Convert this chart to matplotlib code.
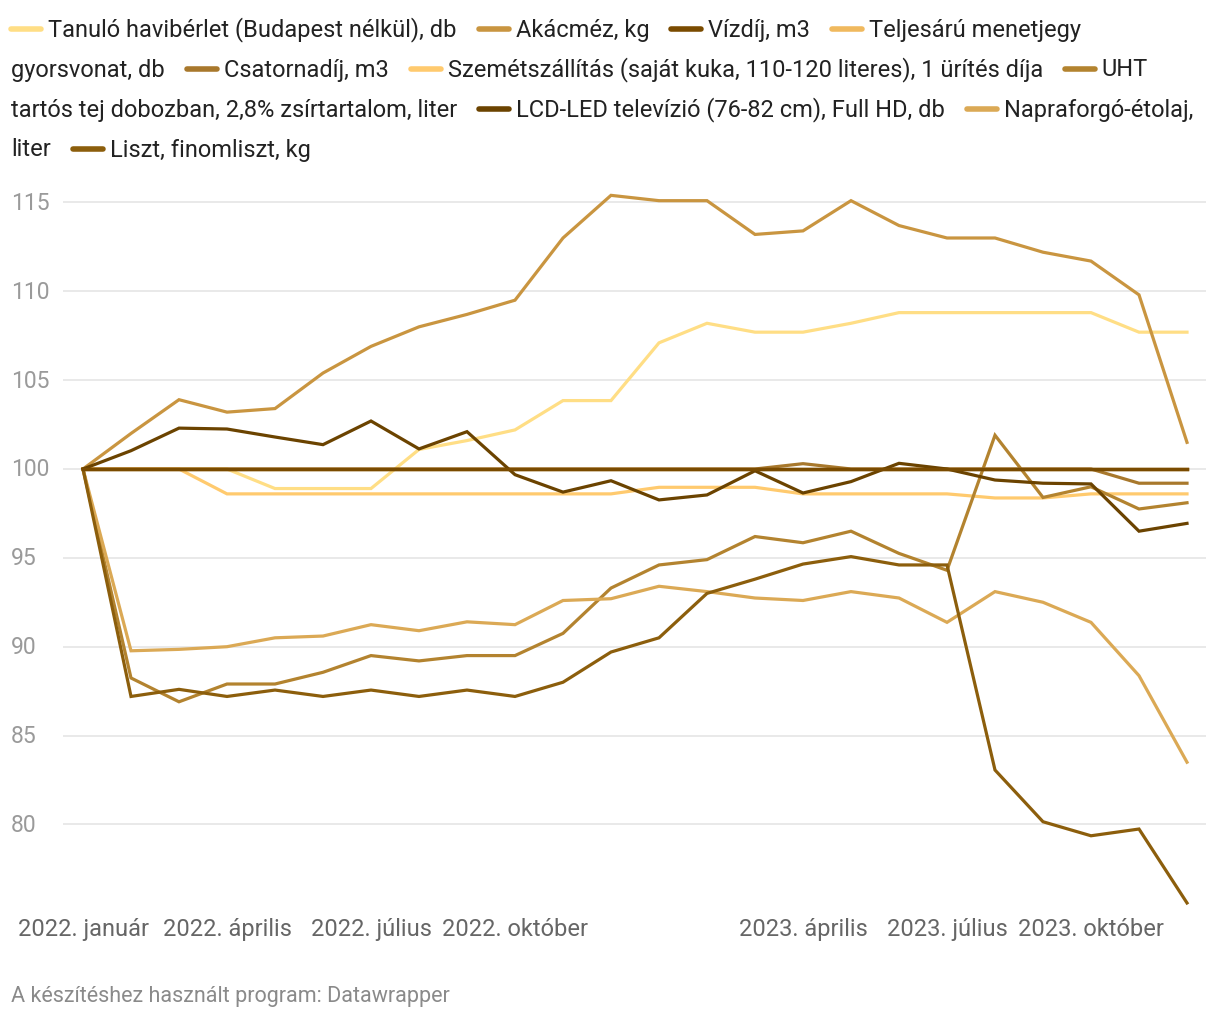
import matplotlib
matplotlib.use("Agg")
import matplotlib.pyplot as plt
from matplotlib.lines import Line2D

plt.rcParams['font.family'] = ['Roboto', 'DejaVu Sans']

# ADATOK (2022. január = 100)
honapok = list(range(24))
tanulo = [100, 100, 100, 100, 98.9, 98.9, 98.9, 101.1, 101.6, 102.2, 103.85, 103.85,
          107.1, 108.2, 107.7, 107.7, 108.2, 108.8, 108.8, 108.8, 108.8, 108.8, 107.7, 107.7]
akacmez = [100, 102.0, 103.9, 103.2, 103.4, 105.4, 106.9, 108.0, 108.7, 109.5, 113.0, 115.4,
           115.1, 115.1, 113.2, 113.4, 115.1, 113.7, 113.0, 113.0, 112.2, 111.7, 109.8, 101.5]
vizdij = [100, 100, 100, 100, 100, 100, 100, 100, 100, 100, 100, 100,
          100, 100, 100, 100, 100, 100, 100, 100, 100, 100, 100, 100]
teljesaru = [100, 100, 100, 100, 100, 100, 100, 100, 100, 100, 100, 100,
             100, 100, 100, 100, 100, 100, 100, 100, 100, 100, 100, 100]
csatorna = [100, 100, 100, 100, 100, 100, 100, 100, 100, 100, 100, 100,
            100, 100, 100, 100.3, 100, 100, 100, 100, 100, 100, 99.2, 99.2]
szemet = [100, 100, 100, 98.6, 98.6, 98.6, 98.6, 98.6, 98.6, 98.6, 98.6, 98.6,
          98.97, 98.97, 98.97, 98.6, 98.6, 98.6, 98.6, 98.37, 98.37, 98.6, 98.6, 98.6]
uht = [100, 88.24, 86.9, 87.9, 87.9, 88.56, 89.5, 89.2, 89.5, 89.5, 90.75, 93.3,
       94.6, 94.9, 96.2, 95.85, 96.5, 95.25, 94.3, 101.9, 98.4, 99.0, 97.75, 98.1]
lcd = [100, 101.03, 102.3, 102.25, 101.8, 101.37, 102.7, 101.13, 102.1, 99.68, 98.7, 99.34,
       98.26, 98.54, 99.9, 98.65, 99.29, 100.32, 100, 99.38, 99.2, 99.16, 96.5, 96.94]
napraforgo = [100, 89.77, 89.85, 90.0, 90.5, 90.6, 91.24, 90.9, 91.4, 91.24, 92.6, 92.7,
              93.4, 93.1, 92.74, 92.6, 93.1, 92.74, 91.37, 93.1, 92.5, 91.37, 88.37, 83.5]
liszt = [100, 87.2, 87.6, 87.2, 87.56, 87.2, 87.56, 87.2, 87.56, 87.2, 88.0, 89.7,
         90.5, 93.0, 93.8, 94.65, 95.07, 94.6, 94.6, 83.06, 80.15, 79.36, 79.74, 75.58]

nevek = ["Tanuló havibérlet (Budapest nélkül), db", "Akácméz, kg", "Vízdíj, m3",
         "Teljesárú menetjegy gyorsvonat, db", "Csatornadíj, m3",
         "Szemétszállítás (saját kuka, 110-120 literes), 1 ürítés díja",
         "UHT tartós tej dobozban, 2,8% zsírtartalom, liter",
         "LCD-LED televízió (76-82 cm), Full HD, db", "Napraforgó-étolaj, liter",
         "Liszt, finomliszt, kg"]
sorok = [tanulo, akacmez, vizdij, teljesaru, csatorna, szemet, uht, lcd, napraforgo, liszt]
szinek = ["#FFDE85", "#C99540", "#7A4B00", "#F0B95E", "#A8782C",
          "#FFCA6E", "#B3832F", "#6B4300", "#DBA955", "#8C5E0C"]

tick_idx = [0, 3, 6, 9, 15, 18, 21]
tick_cimkek = ["2022. január", "2022. április", "2022. július", "2022. október",
               "2023. április", "2023. július", "2023. október"]
y_ticks = [80, 85, 90, 95, 100, 105, 110, 115]

W, H = 1220, 1020
fig = plt.figure(figsize=(W / 100, H / 100), dpi=100)
fig.patch.set_facecolor("white")

# tengely: gridvonalak 63..1206 px, y 190..910 px
ax = fig.add_axes([63 / W, 1 - 910 / H, (1206 - 63) / W, 720 / H])
ax.set_xlim(-20 / 48, 23 + 19 / 48)
ax.set_ylim(100 - 440 / 17.77, 100 + 280 / 17.77)
for s in ax.spines.values():
    s.set_visible(False)
ax.set_xticks([])
ax.set_yticks([])
for t in y_ticks:
    ax.axhline(t, color="#e3e3e3", lw=1.1, zorder=0)
    ax.text(11 / W, ax.transData.transform((0, t))[1] / H, str(t), transform=fig.transFigure,
            ha="left", va="center", fontsize=16.5, color="#9a9a9a")

# vonalak
zsorrend = [3, 4, 5, 3, 4, 3, 4, 5, 4, 4]
for adat, szin, z in zip(sorok, szinek, zsorrend):
    ax.plot(honapok, adat, color=szin, lw=2.3, zorder=z, solid_joinstyle="miter")
ax.plot(honapok, vizdij, color=szinek[2], lw=2.5, zorder=6)

for i, c in zip(tick_idx, tick_cimkek):
    ax.text(i, 100 - 460 / 17.77, c, ha="center", va="center", fontsize=17, color="#666666")

fig.text(11 / W, 1 - 997 / H, "A készítéshez használt program: Datawrapper",
         ha="left", va="center", fontsize=15.5, color="#8a8a8a")

# jelmagyarazat - kezzel tordelve, mint az eredetin
legend_sorok = [
    [(0, "Tanuló havibérlet (Budapest nélkül), db"), (1, "Akácméz, kg"), (2, "Vízdíj, m3"),
     (3, "Teljesárú menetjegy")],
    [(None, "gyorsvonat, db"), (4, "Csatornadíj, m3"),
     (5, "Szemétszállítás (saját kuka, 110-120 literes), 1 ürítés díja"), (6, "UHT")],
    [(None, "tartós tej dobozban, 2,8% zsírtartalom, liter"),
     (7, "LCD-LED televízió (76-82 cm), Full HD, db"), (8, "Napraforgó-étolaj,")],
    [(None, "liter"), (9, "Liszt, finomliszt, kg")],
]
renderer = fig.canvas.get_renderer()
for k, sor in enumerate(legend_sorok):
    y = 1 - (30 + 40 * k) / H
    x = 11
    for j, (idx, szoveg) in enumerate(sor):
        if idx is not None:
            if j > 0:
                x += 22
            fig.add_artist(Line2D([x / W, (x + 30) / W], [y, y], color=szinek[idx], lw=4,
                                  solid_capstyle="round", transform=fig.transFigure))
            x += 37
        t = fig.text(x / W, y, szoveg, ha="left", va="center", fontsize=17, color="#222222")
        x += t.get_window_extent(renderer).width

fig.savefig("out.png", dpi=100, facecolor="white")
